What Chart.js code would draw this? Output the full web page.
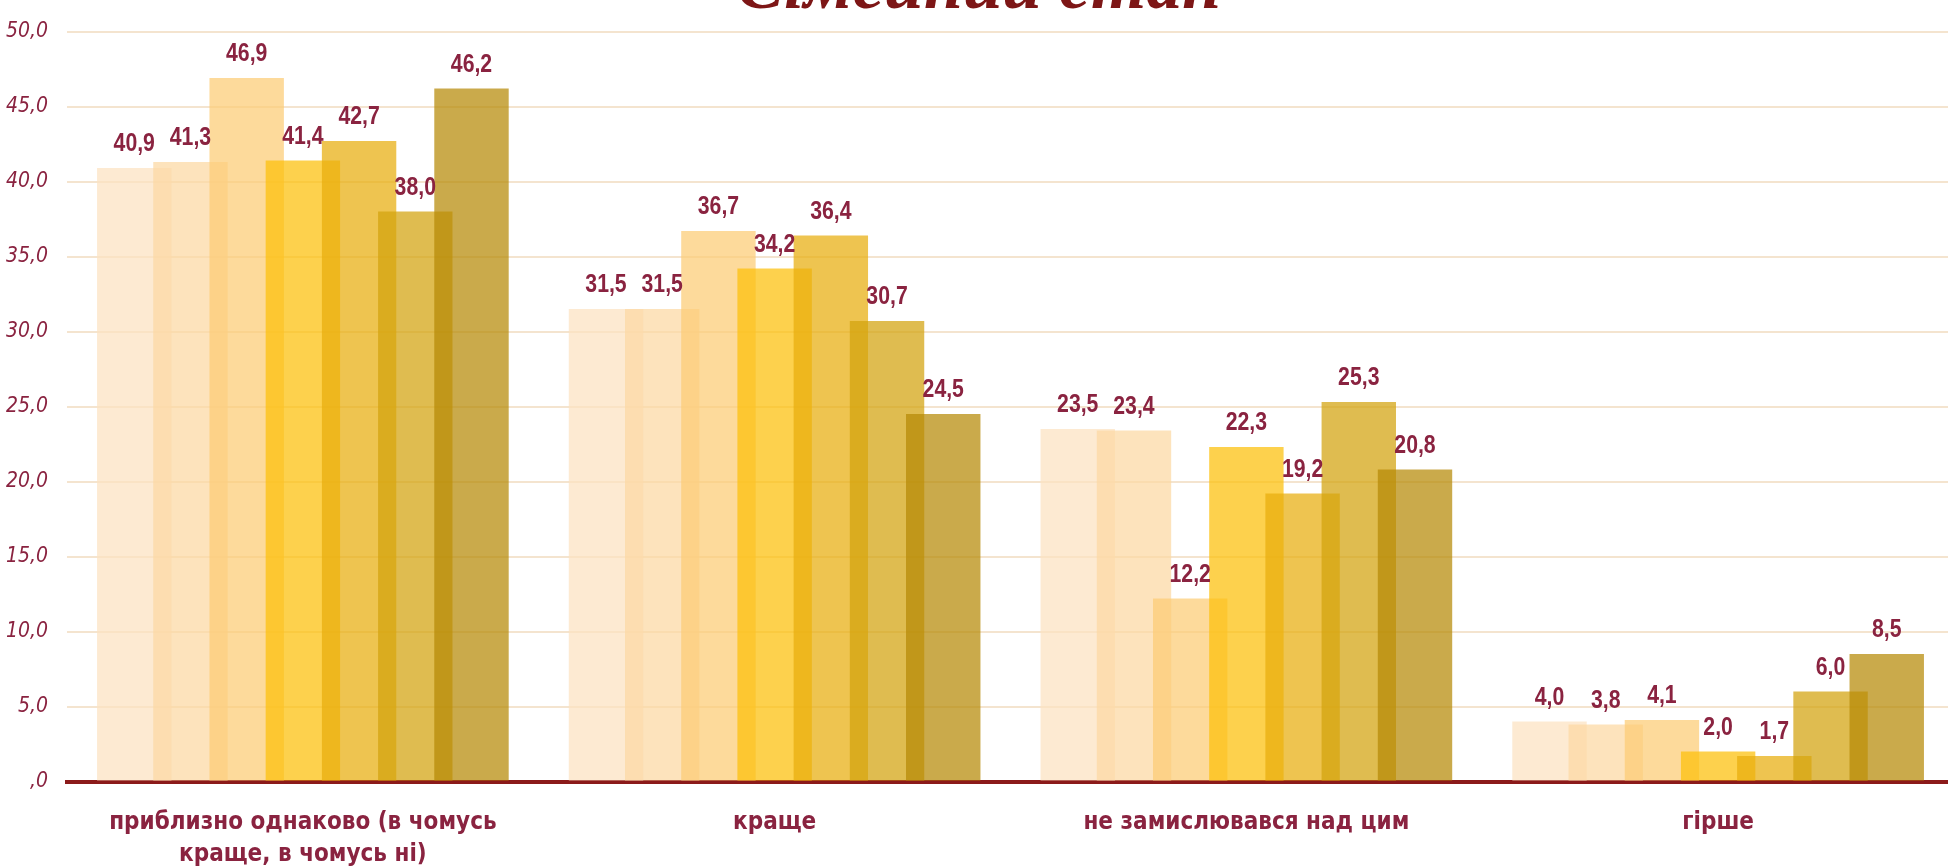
<!DOCTYPE html>
<html>
<head>
<meta charset="utf-8">
<script src="https://cdn.jsdelivr.net/npm/chart.js@4"></script>
<style>
  html, body { margin: 0; padding: 0; background: #fff; overflow: hidden; }
  #wrap { position: relative; width: 1960px; height: 866px; }
</style>
</head>
<body>
<div id="wrap"><canvas id="grafico"></canvas></div>
<script>
const titulo = "Сімейний стан";

const categorias = [
    ["приблизно однаково (в чомусь", "краще, в чомусь ні)"],
    "краще",
    "не замислювався над цим",
    "гірше"
];

const serie1 = [40.9, 31.5, 23.5, 4.0];
const serie2 = [41.3, 31.5, 23.4, 3.8];
const serie3 = [46.9, 36.7, 12.2, 4.1];
const serie4 = [41.4, 34.2, 22.3, 2.0];
const serie5 = [42.7, 36.4, 19.2, 1.7];
const serie6 = [38.0, 30.7, 25.3, 6.0];
const serie7 = [46.2, 24.5, 20.8, 8.5];

const ticksY = [0, 5, 10, 15, 20, 25, 30, 35, 40, 45, 50];

const colores = [
    "rgba(252,226,193,0.72)",
    "rgba(252,216,162,0.72)",
    "rgba(252,204,116,0.72)",
    "rgba(252,191,9,0.72)",
    "rgba(231,173,12,0.72)",
    "rgba(211,162,12,0.72)",
    "rgba(181,137,6,0.72)"
];

const NARROW = '"Liberation Sans Narrow", "Arial Narrow", "DejaVu Sans Condensed", sans-serif';
const ROJO = "#8a2340";

const fmt = v => v === 0 ? ",0" : v.toFixed(1).replace(".", ",");

const series = [serie1, serie2, serie3, serie4, serie5, serie6, serie7];
const datasets = series.map((s, i) => ({
    label: "Серія " + (i + 1),
    data: s,
    backgroundColor: colores[i],
    borderWidth: 0,
    categoryPercentage: 0.834,
    barPercentage: 1.324
}));

// dibuja las barras en orden (la ultima encima) y las etiquetas
const pluginBarras = {
    id: "barras",
    beforeDatasetsDraw(chart) {
        const ctx = chart.ctx;
        const metas = chart.getSortedVisibleDatasetMetas();
        metas.forEach(meta => meta.controller.draw());

        ctx.save();
        ctx.font = 'bold 25px "Liberation Sans", Arial, sans-serif';
        ctx.fillStyle = ROJO;
        ctx.textAlign = "center";
        ctx.textBaseline = "alphabetic";
        metas.forEach(meta => {
            meta.data.forEach((bar, j) => {
                const v = chart.data.datasets[meta.index].data[j];
                ctx.save();
                ctx.translate(bar.x, bar.y - 17);
                ctx.scale(0.85, 1);   // aspecto "narrow"
                ctx.fillText(fmt(v), 0, 0);
                ctx.restore();
            });
        });
        ctx.restore();
        return false;
    }
};

// titulo cortado por arriba
const pluginTitulo = {
    id: "tituloCortado",
    afterDraw(chart) {
        const ctx = chart.ctx;
        ctx.save();
        ctx.font = "bold italic 71px \"Liberation Serif\", serif";
        ctx.fillStyle = "#7d1616";
        ctx.textAlign = "center";
        ctx.textBaseline = "alphabetic";
        ctx.fillText(titulo, 979, 8);
        ctx.restore();
    }
};

new Chart(document.getElementById("grafico"), {
    type: "bar",
    data: { labels: categorias, datasets },
    plugins: [pluginBarras, pluginTitulo],
    options: {
        responsive: true,
        maintainAspectRatio: false,
        animation: false,
        layout: { padding: { top: 0, right: 6, left: 0, bottom: 0 } },
        plugins: {
            legend: { display: false },
            tooltip: { enabled: false },
            title: { display: false }
        },
        scales: {
            x: {
                afterFit: axis => { axis.height = 84.5; },
                grid: { display: false, drawTicks: false },
                border: { display: true, color: "#8b1a1a", width: 4 },
                ticks: {
                    color: ROJO,
                    font: { family: NARROW, size: 24, weight: "bold", lineHeight: 1.35 },
                    padding: 25,
                    maxRotation: 0,
                    autoSkip: false
                }
            },
            y: {
                min: 0,
                max: 50,
                afterBuildTicks: axis => { axis.ticks = ticksY.map(v => ({ value: v })); },
                afterFit: axis => { axis.width = 67; },
                grid: { color: "#f4e4cf", lineWidth: 2, drawTicks: false },
                border: { display: false },
                ticks: {
                    color: ROJO,
                    font: { family: NARROW, size: 21, style: "italic" },
                    padding: 19,
                    callback: v => fmt(v)
                }
            }
        }
    }
});
</script>
</body>
</html>
